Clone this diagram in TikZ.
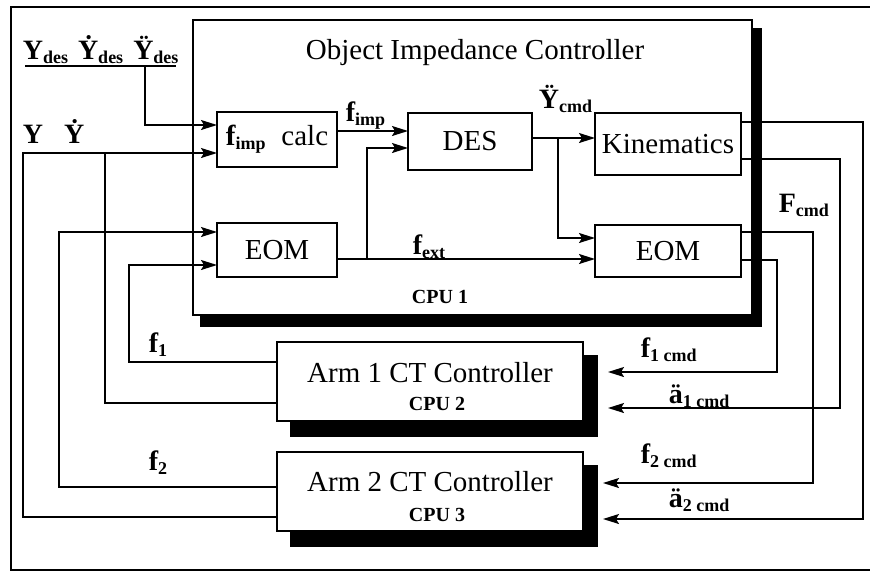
\documentclass[tikz,border=0pt]{standalone}
\usepackage{fontspec}
\setmainfont{Liberation Serif}
\usetikzlibrary{arrows.meta}
\newcommand{\msz}{\fontsize{29}{29}\selectfont}
\newcommand{\lsz}{\fontsize{28}{28}\selectfont\bfseries}
\newcommand{\csz}{\fontsize{20}{20}\selectfont\bfseries}
\newcommand{\lsub}[1]{\raisebox{-4pt}{\fontsize{18}{18}\selectfont\bfseries #1}}
\begin{document}
\begin{tikzpicture}[x=1pt,y=-1pt,line width=1.6pt,
  box/.style={draw,fill=white,line width=1.8pt,inner sep=0pt,outer sep=0pt,font=\msz},
  lab/.style={anchor=base west,inner sep=0pt,font=\lsz},
  txt/.style={anchor=base,inner sep=0pt,font=\msz},
  cpu/.style={anchor=base,inner sep=0pt,font=\csz},
  arr/.style={-{Stealth[length=16pt,width=10pt,inset=3pt]}}]
\useasboundingbox (0,0) rectangle (870,579);
\draw (870,7) -- (11,7) -- (11,570) -- (870,570);
% shadows
\fill (200,28) rectangle (762,327);
\fill (290,355) rectangle (598,437);
\fill (290,465) rectangle (598,547);
% main boxes
\node[box,minimum width=559pt,minimum height=295pt] (cpu1) at (472.5,167.5) {};
\node[box,minimum width=306pt,minimum height=79pt] (arm1) at (430,381.5) {};
\node[box,minimum width=306pt,minimum height=79pt] (arm2) at (430,491.5) {};
\node[txt] (title) at (475,59) {Object Impedance Controller};
\node[cpu] (cpuA) at (440,303) {CPU 1};
\node[txt] (arm1t) at (430,382) {Arm 1 CT Controller};
\node[cpu] (cpuB) at (437,410) {CPU 2};
\node[txt] (arm2t) at (430,491) {Arm 2 CT Controller};
\node[cpu] (cpuC) at (437,521) {CPU 3};
% inner boxes
\node[box,minimum width=120pt,minimum height=55pt] (fcalc) at (277,139.5) {{\bfseries f}\lsub{imp}\hspace{0.55em}calc};
\node[box,minimum width=124pt,minimum height=57pt] (des) at (470,141.5) {DES};
\node[box,minimum width=146pt,minimum height=62pt] (kin) at (668,144) {Kinematics};
\node[box,minimum width=120pt,minimum height=54pt] (eom1) at (277,250) {EOM};
\node[box,minimum width=146pt,minimum height=52pt] (eom2) at (668,251) {EOM};
% labels
\node[lab] (ydes) at (22,59) {Y\lsub{des}\hspace{10pt}Ẏ\lsub{des}\hspace{10pt}Ÿ\lsub{des}};
\node[lab] (yy) at (22,143) {Y\hspace{21pt}Ẏ};
\node[lab] (fimp) at (345,121) {f\lsub{imp}};
\node[lab] (fext) at (412,254) {f\lsub{ext}};
\node[lab] (ycmd) at (538,108) {Ÿ\lsub{cmd}};
\node[lab] (Fcmd) at (778,212) {F\lsub{cmd}};
\node[lab] (f1) at (148,352) {f\lsub{1}};
\node[lab] (f2) at (148,470) {f\lsub{2}};
\node[lab] (f1cmd) at (640,357) {f\lsub{1 cmd}};
\node[lab] (a1cmd) at (668,403) {ä\lsub{1 cmd}};
\node[lab] (f2cmd) at (640,463) {f\lsub{2 cmd}};
\node[lab] (a2cmd) at (668,507) {ä\lsub{2 cmd}};
% coordinates
\coordinate (u1) at (25,66);
\coordinate (u2) at (176,66);
\coordinate (b0) at (145,66);
\coordinate (b1) at (145,125);
\coordinate (c1) at (23,153);
\coordinate (c2) at (0,517);
\coordinate (c3) at (0,403);
\coordinate (c4) at (105,153);
\coordinate (c5) at (0,362);
\coordinate (c6) at (129,265);
\coordinate (c7) at (0,487);
\coordinate (c8) at (59,232);
\coordinate (c9) at (0,131);
\coordinate (c10) at (0,259);
\coordinate (c11) at (367,259);
\coordinate (c12) at (0,148);
\coordinate (c13) at (0,138);
\coordinate (c14) at (558,138);
\coordinate (c15) at (0,238);
\coordinate (c16) at (0,122);
\coordinate (c17) at (863,519);
\coordinate (c18) at (0,159);
\coordinate (c19) at (840,408);
\coordinate (c20) at (0,232);
\coordinate (c21) at (813,483);
\coordinate (c22) at (0,260);
\coordinate (c23) at (777,372);
% connectors
\draw (u1) -- (u2);
\draw[arr] (b0) -- (b1) -- (fcalc.west |- b1);
\draw[arr] (arm2.west |- c2) -| (c1) -- (fcalc.west |- c1);
\draw (arm1.west |- c3) -| (c4);
\draw[arr] (arm1.west |- c5) -| (c6) -- (eom1.west |- c6);
\draw[arr] (arm2.west |- c7) -| (c8) -- (eom1.west |- c8);
\draw[arr] (fcalc.east |- c9) -- (des.west |- c9);
\draw[arr] (eom1.east |- c10) -- (eom2.west |- c10);
\draw[arr] (c11) |- (des.west |- c12);
\draw[arr] (des.east |- c13) -- (kin.west |- c13);
\draw[arr] (c14) |- (eom2.west |- c15);
\draw[arr,shorten >=20pt] (kin.east |- c16) -| (c17) -- (arm2.east |- c17);
\draw[arr,shorten >=25pt] (kin.east |- c18) -| (c19) -- (arm1.east |- c19);
\draw[arr,shorten >=20pt] (eom2.east |- c20) -| (c21) -- (arm2.east |- c21);
\draw[arr,shorten >=25pt] (eom2.east |- c22) -| (c23) -- (arm1.east |- c23);
\end{tikzpicture}
\end{document}
